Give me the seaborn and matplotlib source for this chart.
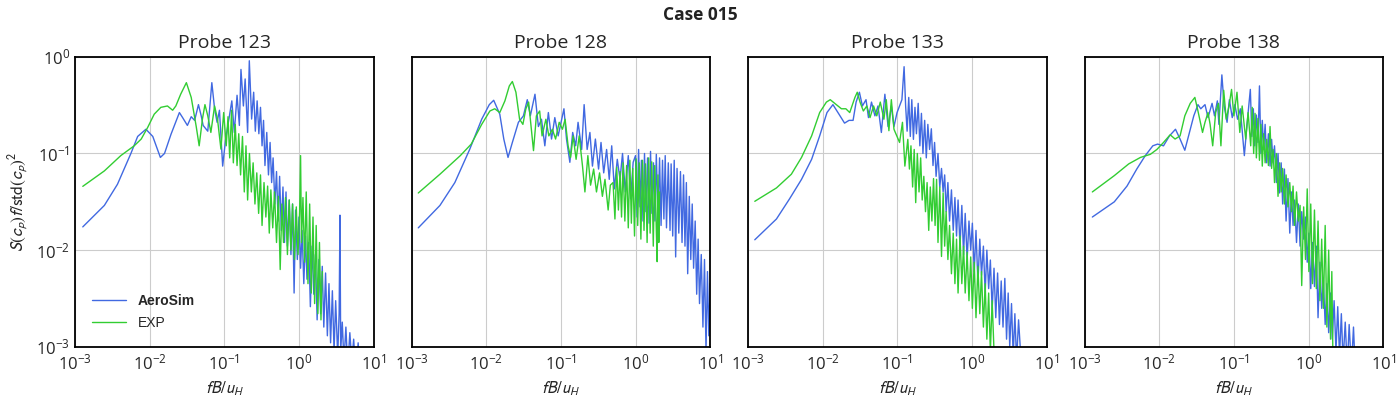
import matplotlib
matplotlib.use("Agg")
import matplotlib.pyplot as plt
import seaborn as sns

# ---- data ----
PROBES = ["Probe 123", "Probe 128", "Probe 133", "Probe 138"]
SIM_COLOR = "#4169E1"
EXP_COLOR = "#32CD32"

# Probe 123
f_sim_123 = [0.00127, 0.00247, 0.0037, 0.0056, 0.0069, 0.0089, 0.011, 0.0139, 0.0158, 0.0193,
             0.025, 0.0276, 0.032, 0.036, 0.040, 0.045, 0.049, 0.052, 0.060, 0.068,
             0.074, 0.080, 0.086, 0.095, 0.104, 0.117, 0.126, 0.136, 0.148, 0.159,
             0.167, 0.18, 0.19, 0.205, 0.216, 0.232,
             0.247, 0.26, 0.275, 0.29, 0.305, 0.32, 0.335, 0.35, 0.37, 0.39,
             0.41, 0.43, 0.45, 0.475, 0.50, 0.525, 0.55, 0.58, 0.61, 0.64,
             0.67, 0.70, 0.74, 0.78, 0.82, 0.86, 0.90, 0.95, 1.0, 1.05,
             1.1, 1.16, 1.22, 1.28, 1.35, 1.42, 1.5, 1.58, 1.66, 1.75,
             1.85, 1.95, 2.05, 2.15, 2.27, 2.4, 2.52, 2.65, 2.8, 2.95,
             3.1, 3.3, 3.45, 3.54, 3.62, 3.8, 4.0, 4.25, 4.5, 4.8,
             5.1, 5.4, 5.8, 6.2, 6.6, 7.1]
s_sim_123 = [0.0174, 0.029, 0.048, 0.10, 0.15, 0.178, 0.15, 0.091, 0.10, 0.158,
             0.265, 0.235, 0.195, 0.24, 0.22, 0.32, 0.245, 0.195, 0.17, 0.54,
             0.29, 0.21, 0.28, 0.074, 0.14, 0.245, 0.35, 0.165, 0.40, 0.195,
             0.74, 0.31, 0.59, 0.165, 0.91, 0.227,
             0.43, 0.17, 0.35, 0.16, 0.30, 0.12, 0.22, 0.075, 0.165, 0.06,
             0.13, 0.05, 0.09, 0.03, 0.065, 0.02, 0.058, 0.016, 0.045, 0.012,
             0.04, 0.011, 0.033, 0.009, 0.03, 0.0036, 0.026, 0.008, 0.022, 0.0065,
             0.016, 0.0045, 0.014, 0.005, 0.012, 0.0026, 0.011, 0.0035, 0.009, 0.0019,
             0.008, 0.0022, 0.0068, 0.0016, 0.0058, 0.0013, 0.0045, 0.0011, 0.0038, 0.0009,
             0.003, 0.0008, 0.0022, 0.023, 0.0009, 0.0018, 0.0007, 0.0016, 0.0006, 0.0014,
             0.0007, 0.0012, 0.0005, 0.0011, 0.0005, 0.0009]
f_exp_123 = [0.00127, 0.00247, 0.0041, 0.0062, 0.0077, 0.0094, 0.0115, 0.0141, 0.0173, 0.0203,
             0.0224, 0.026, 0.031, 0.036, 0.042, 0.046, 0.051, 0.055, 0.060, 0.066,
             0.074, 0.081, 0.090, 0.098,
             0.106, 0.112, 0.118, 0.125, 0.132, 0.14, 0.148, 0.156, 0.165, 0.175,
             0.185, 0.195, 0.205, 0.217, 0.23, 0.243, 0.257, 0.272, 0.288, 0.305,
             0.32, 0.34, 0.36, 0.38, 0.40, 0.42, 0.445, 0.47, 0.50, 0.53,
             0.56, 0.59, 0.62, 0.66, 0.70, 0.74, 0.78, 0.82, 0.87, 0.92,
             0.97, 1.02, 1.05, 1.08, 1.13, 1.19, 1.25, 1.32, 1.39, 1.46,
             1.54, 1.62, 1.7, 1.79, 1.88, 1.97, 2.05]
s_exp_123 = [0.0457, 0.066, 0.095, 0.12, 0.141, 0.186, 0.255, 0.30, 0.31, 0.28,
             0.31, 0.41, 0.54, 0.38, 0.19, 0.12, 0.23, 0.32, 0.245, 0.165,
             0.31, 0.226, 0.111, 0.265,
             0.12, 0.24, 0.09, 0.28, 0.08, 0.2, 0.075, 0.16, 0.06, 0.15,
             0.04, 0.12, 0.033, 0.1, 0.04, 0.08, 0.03, 0.063, 0.024, 0.06,
             0.018, 0.05, 0.022, 0.046, 0.015, 0.042, 0.017, 0.04, 0.012, 0.036,
             0.0063, 0.03, 0.012, 0.035, 0.009, 0.033, 0.01, 0.03, 0.008, 0.028,
             0.009, 0.025, 0.095, 0.012, 0.035, 0.0075, 0.04, 0.0045, 0.03, 0.0036,
             0.022, 0.0028, 0.018, 0.0022, 0.012, 0.0019, 0.006]

# Probe 128
f_sim_128 = [0.00123, 0.0024, 0.0038, 0.006, 0.0087, 0.011, 0.0126, 0.0152, 0.0172, 0.0196,
             0.0224, 0.027, 0.0315, 0.0355, 0.039, 0.045, 0.050, 0.055, 0.061, 0.068,
             0.075, 0.083, 0.092, 0.11, 0.119, 0.132, 0.144, 0.158, 0.17, 0.19,
             0.205, 0.225, 0.245, 0.265, 0.29, 0.32, 0.345, 0.375, 0.41, 0.445,
             0.48, 0.52, 0.57, 0.62, 0.67, 0.73, 0.80, 0.86, 0.93,
             1.0, 1.05, 1.1, 1.15, 1.2, 1.26, 1.32, 1.38, 1.45, 1.52,
             1.59, 1.66, 1.74, 1.82, 1.9, 2.0, 2.1, 2.2, 2.3, 2.4,
             2.5, 2.6, 2.75, 2.9, 3.0, 3.15, 3.3, 3.45, 3.6, 3.8,
             4.0, 4.2, 4.4, 4.6, 4.8, 5.0, 5.25, 5.5, 5.75, 6.0,
             6.3, 6.6, 6.9, 7.2, 7.6, 8.0, 8.4, 8.8, 9.2, 9.6,
             10.0]
s_sim_128 = [0.017, 0.029, 0.050, 0.11, 0.226, 0.32, 0.355, 0.255, 0.141, 0.091,
             0.13, 0.21, 0.245, 0.36, 0.245, 0.41, 0.19, 0.226, 0.12, 0.265,
             0.141, 0.235, 0.152, 0.29, 0.141, 0.081, 0.165, 0.12, 0.21, 0.11,
             0.32, 0.11, 0.165, 0.074, 0.141, 0.069, 0.13, 0.063, 0.11, 0.054,
             0.12, 0.043, 0.087, 0.054, 0.10, 0.040, 0.095, 0.034, 0.081,
             0.095, 0.022, 0.11, 0.028, 0.085, 0.02, 0.10, 0.025, 0.09, 0.019,
             0.105, 0.024, 0.08, 0.02, 0.098, 0.022, 0.09, 0.018, 0.085, 0.021,
             0.095, 0.017, 0.08, 0.016, 0.078, 0.014, 0.085, 0.0085, 0.07, 0.015,
             0.065, 0.012, 0.06, 0.011, 0.05, 0.0057, 0.036, 0.008, 0.03, 0.0065,
             0.02, 0.0035, 0.013, 0.0028, 0.009, 0.0016, 0.008, 0.0009, 0.006, 0.0013,
             0.0045]
f_exp_128 = [0.00123, 0.0024, 0.0045, 0.0063, 0.0087, 0.0112, 0.013, 0.0152, 0.0178, 0.0204,
             0.0224, 0.025, 0.028, 0.031, 0.034, 0.037, 0.043, 0.047, 0.052, 0.056,
             0.063, 0.069, 0.077, 0.085, 0.095, 0.105, 0.114, 0.125, 0.135, 0.146,
             0.16, 0.176, 0.195, 0.21, 0.23, 0.25, 0.275, 0.30, 0.33, 0.36,
             0.39, 0.43, 0.46,
             0.50, 0.53, 0.56, 0.59, 0.62, 0.65, 0.68, 0.72, 0.76, 0.80,
             0.84, 0.88, 0.92, 0.97, 1.02, 1.07, 1.12, 1.18, 1.24, 1.3,
             1.36, 1.43, 1.5, 1.57, 1.65, 1.73, 1.81, 1.9, 1.95, 2.0,
             2.05, 2.1]
s_exp_128 = [0.039, 0.061, 0.095, 0.125, 0.20, 0.275, 0.29, 0.265, 0.35, 0.50,
             0.555, 0.43, 0.226, 0.20, 0.29, 0.34, 0.107, 0.245, 0.275, 0.152,
             0.226, 0.152, 0.178, 0.141, 0.21, 0.178, 0.226, 0.12, 0.091, 0.152,
             0.087, 0.152, 0.074, 0.040, 0.095, 0.047, 0.069, 0.040, 0.063, 0.036,
             0.054, 0.026, 0.047,
             0.05, 0.021, 0.072, 0.026, 0.065, 0.022, 0.08, 0.02, 0.075, 0.017,
             0.085, 0.019, 0.07, 0.014, 0.088, 0.018, 0.08, 0.013, 0.085, 0.016,
             0.078, 0.012, 0.09, 0.015, 0.082, 0.011, 0.075, 0.016, 0.0076, 0.06,
             0.012, 0.04]

# Probe 133
f_sim_133 = [0.00123, 0.0024, 0.0036, 0.0052, 0.0071, 0.0091, 0.0114, 0.0137, 0.0165, 0.0196,
             0.0225, 0.0255, 0.028, 0.031, 0.034, 0.038, 0.041, 0.045, 0.050, 0.055,
             0.061, 0.068, 0.075, 0.083, 0.09, 0.099, 0.115, 0.123,
             0.129, 0.135, 0.142, 0.149, 0.156, 0.164, 0.172, 0.18, 0.19, 0.2,
             0.21, 0.22, 0.232, 0.244, 0.256, 0.27, 0.285, 0.30, 0.315, 0.33,
             0.35, 0.37, 0.39, 0.41, 0.43, 0.45, 0.475, 0.50, 0.53, 0.56,
             0.59, 0.62, 0.65, 0.69, 0.73, 0.77, 0.81, 0.86, 0.91, 0.96,
             1.01, 1.07, 1.13, 1.2, 1.27, 1.34, 1.42, 1.5, 1.58, 1.67,
             1.76, 1.86, 1.97, 2.08, 2.2, 2.33, 2.46, 2.6, 2.75, 2.9,
             3.05, 3.2, 3.38, 3.56, 3.75, 3.95, 4.2, 4.5]
s_sim_133 = [0.0128, 0.021, 0.034, 0.054, 0.087, 0.152, 0.265, 0.32, 0.255, 0.206,
             0.22, 0.22, 0.34, 0.43, 0.31, 0.36, 0.235, 0.34, 0.245, 0.31,
             0.165, 0.41, 0.19, 0.31, 0.19, 0.265, 0.36, 0.79,
             0.31, 0.17, 0.38, 0.15, 0.36, 0.14, 0.3, 0.16, 0.33, 0.12,
             0.26, 0.1, 0.22, 0.09, 0.2, 0.11, 0.18, 0.075, 0.13, 0.058,
             0.1, 0.045, 0.07, 0.04, 0.06, 0.025, 0.05, 0.02, 0.042, 0.016,
             0.035, 0.014, 0.033, 0.011, 0.029, 0.009, 0.024, 0.008, 0.02, 0.01,
             0.019, 0.006, 0.016, 0.0045, 0.013, 0.0055, 0.011, 0.0036, 0.01, 0.004,
             0.0079, 0.0024, 0.0065, 0.002, 0.0058, 0.0017, 0.0048, 0.0016, 0.0051, 0.0012,
             0.0036, 0.001, 0.0028, 0.0008, 0.0022, 0.0007, 0.0019, 0.0008]
f_exp_133 = [0.00123, 0.0024, 0.0038, 0.0052, 0.0071, 0.0091, 0.0112, 0.0126, 0.0152, 0.0178,
             0.0204, 0.023, 0.027, 0.029, 0.0316, 0.035, 0.039, 0.043, 0.048, 0.053,
             0.059, 0.066, 0.071, 0.077, 0.083, 0.09, 0.107, 0.117, 0.126,
             0.138, 0.145, 0.152, 0.16, 0.168, 0.176, 0.185, 0.195, 0.205, 0.215,
             0.226, 0.238, 0.25, 0.263, 0.276, 0.29, 0.305, 0.32, 0.335, 0.35,
             0.37, 0.39, 0.41, 0.43, 0.45, 0.475, 0.50, 0.53, 0.56, 0.59,
             0.62, 0.65, 0.69, 0.73, 0.77, 0.81, 0.86, 0.91, 0.96, 1.01,
             1.07, 1.13, 1.2, 1.27, 1.34, 1.42, 1.5, 1.58, 1.67, 1.76,
             1.86, 1.96, 2.05]
s_exp_133 = [0.032, 0.044, 0.061, 0.091, 0.152, 0.265, 0.34, 0.36, 0.32, 0.29,
             0.29, 0.265, 0.38, 0.43, 0.34, 0.275, 0.31, 0.235, 0.31, 0.245,
             0.34, 0.226, 0.36, 0.172, 0.36, 0.178, 0.13, 0.21, 0.074,
             0.14, 0.069, 0.12, 0.045, 0.11, 0.031, 0.1, 0.04, 0.09, 0.033,
             0.058, 0.025, 0.05, 0.016, 0.045, 0.02, 0.055, 0.018, 0.054, 0.012,
             0.045, 0.0086, 0.039, 0.011, 0.025, 0.008, 0.018, 0.0057, 0.015, 0.0045,
             0.013, 0.0036, 0.014, 0.0045, 0.011, 0.0036, 0.0095, 0.003, 0.0085, 0.0025,
             0.0075, 0.002, 0.0068, 0.0022, 0.006, 0.0016, 0.0045, 0.0012, 0.0036, 0.0009,
             0.003, 0.001, 0.0008]

# Probe 138
f_sim_138 = [0.00127, 0.0025, 0.0037, 0.0050, 0.0065, 0.0082, 0.0095, 0.0114, 0.0137, 0.0165,
             0.019, 0.022, 0.0247, 0.029, 0.033, 0.036, 0.041, 0.045, 0.051, 0.055,
             0.060, 0.063, 0.069, 0.074, 0.081, 0.087, 0.095, 0.103, 0.112, 0.122,
             0.132, 0.138, 0.149,
             0.166, 0.174, 0.182, 0.19, 0.2, 0.21, 0.22, 0.23, 0.24, 0.25,
             0.262, 0.275, 0.29, 0.305, 0.32, 0.335, 0.35, 0.37, 0.39, 0.41,
             0.43, 0.45, 0.475, 0.50, 0.53, 0.56, 0.59, 0.62, 0.65, 0.69,
             0.73, 0.77, 0.81, 0.86, 0.91, 0.96, 1.01, 1.07, 1.13, 1.2,
             1.27, 1.34, 1.42, 1.5, 1.58, 1.67, 1.76, 1.86, 1.97, 2.08,
             2.2, 2.33, 2.46, 2.6, 2.75, 2.9, 3.1, 3.3, 3.5, 3.75,
             4.0, 4.25]
s_sim_138 = [0.022, 0.0316, 0.046, 0.069, 0.095, 0.12, 0.125, 0.12, 0.152, 0.178,
             0.141, 0.108, 0.152, 0.245, 0.32, 0.29, 0.32, 0.235, 0.33, 0.245,
             0.35, 0.20, 0.65, 0.31, 0.21, 0.36, 0.235, 0.32, 0.226, 0.29,
             0.141, 0.095, 0.19,
             0.46, 0.15, 0.29, 0.12, 0.25, 0.13, 0.5, 0.1, 0.22, 0.11,
             0.2, 0.08, 0.16, 0.074, 0.14, 0.08, 0.12, 0.05, 0.1, 0.039,
             0.08, 0.03, 0.069, 0.02, 0.055, 0.015, 0.04, 0.018, 0.033, 0.012,
             0.03, 0.011, 0.025, 0.013, 0.022, 0.0075, 0.015, 0.004, 0.012, 0.0042,
             0.011, 0.002, 0.0075, 0.0025, 0.0049, 0.0017, 0.0045, 0.0014, 0.0036, 0.0012,
             0.003, 0.0009, 0.0026, 0.0008, 0.0022, 0.0007, 0.0018, 0.0006, 0.0017, 0.0006,
             0.0016, 0.0005]
f_exp_138 = [0.00127, 0.0025, 0.0039, 0.0056, 0.0076, 0.0093, 0.0114, 0.014, 0.0163, 0.019,
             0.022, 0.026, 0.030, 0.033, 0.038, 0.041, 0.045, 0.048, 0.052, 0.057,
             0.062, 0.067, 0.073, 0.079, 0.086, 0.093, 0.10, 0.11, 0.12, 0.129,
             0.144, 0.155,
             0.168, 0.176, 0.184, 0.192, 0.2, 0.21, 0.22, 0.23, 0.24, 0.25,
             0.262, 0.275, 0.29, 0.305, 0.32, 0.335, 0.35, 0.37, 0.39, 0.41,
             0.43, 0.45, 0.475, 0.50, 0.53, 0.56, 0.59, 0.62, 0.65, 0.69,
             0.73, 0.77, 0.81, 0.86, 0.91, 0.96, 1.01, 1.07, 1.13, 1.2,
             1.27, 1.34, 1.42, 1.5, 1.58, 1.67, 1.76, 1.86, 1.97, 2.05,
             2.12]
s_exp_138 = [0.040, 0.059, 0.078, 0.091, 0.098, 0.11, 0.13, 0.156, 0.141, 0.152,
             0.245, 0.33, 0.38, 0.275, 0.165, 0.21, 0.265, 0.20, 0.12, 0.265,
             0.33, 0.12, 0.45, 0.226, 0.31, 0.46, 0.245, 0.43, 0.165, 0.31,
             0.141, 0.265,
             0.12, 0.3, 0.1, 0.26, 0.09, 0.23, 0.085, 0.2, 0.074, 0.16,
             0.08, 0.14, 0.075, 0.19, 0.07, 0.11, 0.05, 0.1, 0.036, 0.08,
             0.04, 0.07, 0.03, 0.06, 0.028, 0.05, 0.025, 0.046, 0.018, 0.04,
             0.02, 0.029, 0.0043, 0.028, 0.008, 0.043, 0.006, 0.03, 0.0045, 0.026,
             0.004, 0.02, 0.003, 0.013, 0.0025, 0.018, 0.0016, 0.01, 0.0012, 0.006,
             0.0008]

series = [
    (f_sim_123, s_sim_123, f_exp_123, s_exp_123),
    (f_sim_128, s_sim_128, f_exp_128, s_exp_128),
    (f_sim_133, s_sim_133, f_exp_133, s_exp_133),
    (f_sim_138, s_sim_138, f_exp_138, s_exp_138),
]

# ---- style ----
sns.set_style("white")
plt.rcParams["font.family"] = ["Open Sans", "DejaVu Sans"]
plt.rcParams["mathtext.fontset"] = "custom"
plt.rcParams["mathtext.rm"] = "Open Sans"
plt.rcParams["mathtext.it"] = "Open Sans:italic"

fig, axes = plt.subplots(1, 4, figsize=(14, 4), dpi=100, sharey=True)
fig.subplots_adjust(left=0.0536, right=0.988, bottom=0.133, top=0.858, wspace=0.127)
fig.suptitle("Case 015", fontsize=12.5, fontweight="bold", y=0.985, color="#222222")

for ax, title, (fs, ss, fe, se) in zip(axes, PROBES, series):
    sns.lineplot(x=fs, y=ss, ax=ax, color=SIM_COLOR, linewidth=1.0,
                 estimator=None, sort=False, label="AeroSim")
    sns.lineplot(x=fe, y=se, ax=ax, color=EXP_COLOR, linewidth=1.0,
                 estimator=None, sort=False, label="EXP")
    ax.set_xscale("log")
    ax.set_yscale("log")
    ax.set_xlim(1e-3, 1e1)
    ax.set_ylim(1e-3, 1e0)
    ax.set_title(title, fontsize=14)
    ax.set_xlabel(r"$fB/u_H$", fontsize=12, math_fontfamily="stixsans")
    ax.grid(True, color="#cccccc", linewidth=0.8)
    ax.tick_params(labelsize=12, length=0)
    ax.tick_params(axis="x", pad=5)
    for sp in ax.spines.values():
        sp.set_color("black")
        sp.set_linewidth(1.3)
    ax.get_legend().remove()

axes[0].set_ylabel(r"$S(c_p)f/\mathrm{std}(c_p)^2$", fontsize=12.5, math_fontfamily="stixsans")
leg = axes[0].legend(loc="lower left", frameon=False,
                     prop={"family": "Liberation Sans", "size": 10},
                     handlelength=2.5, borderaxespad=0.8, labelspacing=0.6)
leg.get_texts()[0].set_fontweight("bold")

plt.savefig("out.png", dpi=100)
plt.close()
